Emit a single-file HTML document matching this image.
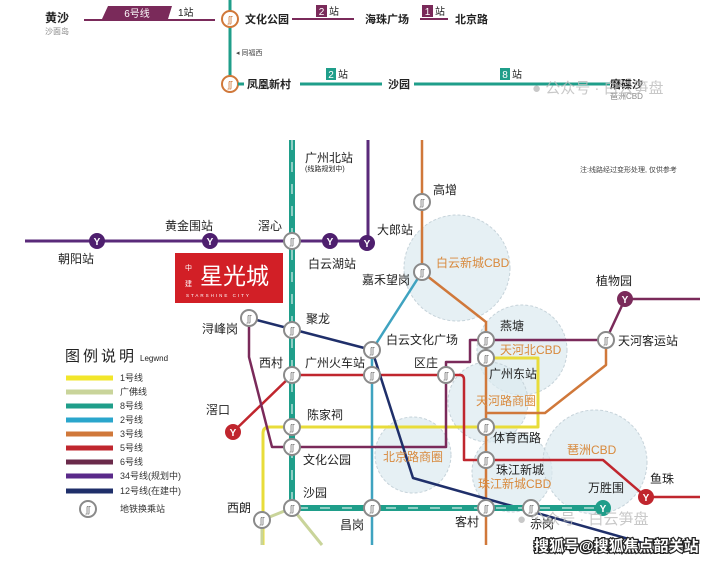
<!DOCTYPE html>
<html><head><meta charset="utf-8"><style>
html,body{margin:0;padding:0;background:#fff;}
svg{display:block;font-family:"Liberation Sans","Noto Sans CJK SC",sans-serif;}
</style></head><body>
<svg width="718" height="561" viewBox="0 0 718 561" xmlns="http://www.w3.org/2000/svg">
<defs>
<g id="x"><circle r="8" fill="#fff" stroke="#8a8a8a" stroke-width="2"/><text y="3.5" font-size="9" text-anchor="middle" fill="#777">ʃʃ</text></g>
<g id="xo"><circle r="8" fill="#fff" stroke="#d0783a" stroke-width="2"/><text y="3.5" font-size="9" text-anchor="middle" fill="#d0783a">ʃʃ</text></g>
</defs>
<!-- TOP SECTION -->
<line x1="230" y1="0" x2="230" y2="84" stroke="#1f9e8a" stroke-width="3"/>
<text x="45" y="22" font-size="12" font-weight="bold" fill="#222">黄沙</text>
<text x="45" y="34" font-size="8" fill="#888">沙面岛</text>
<line x1="84" y1="20" x2="215" y2="20" stroke="#7a2a5a" stroke-width="2"/>
<polygon points="108,6 172,6 168,19 102,19" fill="#7a2a5a"/>
<text x="137" y="17" font-size="10" fill="#fff" text-anchor="middle">6号线</text>
<text x="178" y="16" font-size="10" fill="#222">1站</text>
<use href="#xo" x="230" y="19"/>
<text x="245" y="23" font-size="11" font-weight="bold" fill="#222">文化公园</text>
<line x1="292" y1="19" x2="354" y2="19" stroke="#7a2a5a" stroke-width="2"/>
<rect x="316" y="5" width="11" height="12" fill="#7a2a5a"/><text x="321.5" y="15" font-size="10" fill="#fff" text-anchor="middle">2</text><text x="329" y="15" font-size="10" fill="#222">站</text>
<text x="365" y="23" font-size="11" font-weight="bold" fill="#222">海珠广场</text>
<line x1="420" y1="19" x2="448" y2="19" stroke="#7a2a5a" stroke-width="2"/>
<rect x="422" y="5" width="11" height="12" fill="#7a2a5a"/><text x="427.5" y="15" font-size="10" fill="#fff" text-anchor="middle">1</text><text x="435" y="15" font-size="10" fill="#222">站</text>
<text x="455" y="23" font-size="11" font-weight="bold" fill="#222">北京路</text>
<text x="236" y="55" font-size="7" fill="#444">◂ 同福西</text>
<use href="#xo" x="230" y="84"/>
<line x1="238" y1="84" x2="244" y2="84" stroke="#1f9e8a" stroke-width="3"/>
<text x="247" y="88" font-size="11" font-weight="bold" fill="#222">凤凰新村</text>
<line x1="300" y1="84" x2="382" y2="84" stroke="#1f9e8a" stroke-width="3"/>
<rect x="326" y="68" width="10" height="12" fill="#1f9e8a"/><text x="331" y="78" font-size="10" fill="#fff" text-anchor="middle">2</text><text x="338" y="78" font-size="10" fill="#222">站</text>
<text x="388" y="88" font-size="11" font-weight="bold" fill="#222">沙园</text>
<line x1="414" y1="84" x2="610" y2="84" stroke="#1f9e8a" stroke-width="3"/>
<rect x="500" y="68" width="10" height="12" fill="#1f9e8a"/><text x="505" y="78" font-size="10" fill="#fff" text-anchor="middle">8</text><text x="512" y="78" font-size="10" fill="#222">站</text>
<text x="610" y="88" font-size="11" font-weight="bold" fill="#222">磨碟沙</text>
<text x="610" y="99" font-size="8" fill="#888">琶洲CBD</text>
<text x="532" y="93" font-size="15" fill="#bbb" opacity="0.8">● 公众号 · 白云笋盘</text>

<!-- CBD circles -->
<g fill="#dbe9f0" fill-opacity="0.7" stroke="#c6d3da" stroke-dasharray="3,2">
<circle cx="457" cy="268" r="53"/>
<circle cx="522" cy="350" r="45"/>
<circle cx="488" cy="402" r="40"/>
<circle cx="413" cy="455" r="38"/>
<circle cx="512" cy="472" r="40"/>
<circle cx="595" cy="462" r="52"/>
</g>
<text x="580" y="172" font-size="7" fill="#444">注:线路经过变形处理, 仅供参考</text>

<!-- lines -->
<g fill="none" stroke-linejoin="round">
<path d="M263,545 V433 Q263,427 270,427 H486" stroke="#e8dc3a" stroke-width="3"/>
<path d="M486,358 H538 V427 H486" stroke="#e8dc3a" stroke-width="3"/>
<path d="M262,545 V520 L292,508 L322,545" stroke="#c9d49a" stroke-width="3"/>
<path d="M422,272 L372,350 V545" stroke="#3fa3c0" stroke-width="2.5"/>
<path d="M422,140 V272 L486,322 V545" stroke="#d0783a" stroke-width="2.5"/>
<path d="M606,340 V365 L545,413 H486" stroke="#d0783a" stroke-width="2.5"/>
<path d="M25,241 H368 V140" stroke="#5a2a7a" stroke-width="3"/>
<path d="M233,432 L292,375 H460 Q464,375 464,380 V460 H603 L646,497 H700" stroke="#c0262e" stroke-width="2.5"/>
<path d="M249,318 V357 L272,447 H446 V362 H470 V340 H606 L625,299 H700" stroke="#7a2a5a" stroke-width="2.5"/>
<path d="M249,318 L372,350 L413,478 L650,545" stroke="#1f2f6a" stroke-width="2.5"/>
<path d="M292,140 V508 H600" stroke="#1f9e8a" stroke-width="6"/>
<path d="M292,140 V508 H600" stroke="#fff" stroke-width="1" stroke-dasharray="10,12"/>
</g>

<!-- red box -->
<rect x="175" y="253" width="108" height="50" fill="#d21f26"/>
<text x="185" y="270" font-size="7" fill="#fff">中</text><text x="185" y="286" font-size="7" fill="#fff">建</text>
<text x="200" y="284" font-size="23" fill="#fff">星光城</text>
<text x="186" y="297" font-size="4.5" fill="#fff" letter-spacing="2">STARSHINE CITY</text>

<!-- Y stations -->
<g font-size="10" font-weight="bold" fill="#fff" text-anchor="middle">
<circle cx="97" cy="241" r="8" fill="#4e1f6e"/><text x="97" y="245">Y</text>
<circle cx="210" cy="241" r="8" fill="#4e1f6e"/><text x="210" y="245">Y</text>
<circle cx="330" cy="241" r="8" fill="#4e1f6e"/><text x="330" y="245">Y</text>
<circle cx="367" cy="243" r="8" fill="#4e1f6e"/><text x="367" y="247">Y</text>
<circle cx="625" cy="299" r="8" fill="#7a2a5a"/><text x="625" y="303">Y</text>
<circle cx="233" cy="432" r="8" fill="#c0262e"/><text x="233" y="436">Y</text>
<circle cx="646" cy="497" r="8" fill="#c0262e"/><text x="646" y="501">Y</text>
<circle cx="603" cy="508" r="8" fill="#1f9e8a"/><text x="603" y="512">Y</text>
</g>
<use href="#x" x="292" y="241"/><use href="#x" x="422" y="202"/><use href="#x" x="422" y="272"/>
<use href="#x" x="249" y="318"/><use href="#x" x="292" y="330"/><use href="#x" x="372" y="350"/>
<use href="#x" x="292" y="375"/><use href="#x" x="372" y="375"/><use href="#x" x="446" y="375"/>
<use href="#x" x="486" y="340"/><use href="#x" x="486" y="358"/><use href="#x" x="606" y="340"/>
<use href="#x" x="292" y="427"/><use href="#x" x="292" y="447"/><use href="#x" x="486" y="427"/>
<use href="#x" x="486" y="460"/><use href="#x" x="292" y="508"/><use href="#x" x="262" y="520"/>
<use href="#x" x="372" y="508"/><use href="#x" x="486" y="508"/><use href="#x" x="531" y="508"/>

<!-- labels -->
<g font-size="12" fill="#222">
<text x="305" y="162">广州北站</text><text x="305" y="171" font-size="7">(线路规划中)</text>
<text x="58" y="263">朝阳站</text><text x="165" y="230">黄金围站</text><text x="258" y="230">滘心</text>
<text x="308" y="268">白云湖站</text><text x="377" y="234">大郎站</text><text x="433" y="194">高增</text>
<text x="362" y="284">嘉禾望岗</text><text x="306" y="323">聚龙</text><text x="202" y="333">浔峰岗</text>
<text x="386" y="344">白云文化广场</text><text x="500" y="330">燕塘</text><text x="596" y="285">植物园</text>
<text x="618" y="345">天河客运站</text><text x="259" y="367">西村</text><text x="305" y="367">广州火车站</text>
<text x="414" y="367">区庄</text><text x="489" y="378">广州东站</text><text x="206" y="414">滘口</text>
<text x="307" y="419">陈家祠</text><text x="493" y="442">体育西路</text><text x="303" y="464">文化公园</text>
<text x="496" y="474">珠江新城</text><text x="303" y="497">沙园</text><text x="588" y="492">万胜围</text>
<text x="650" y="483">鱼珠</text><text x="227" y="512">西朗</text><text x="340" y="529">昌岗</text>
<text x="455" y="526">客村</text><text x="530" y="528">赤岗</text>
</g>
<g font-size="12" fill="#d8893c">
<text x="436" y="267">白云新城CBD</text><text x="500" y="354">天河北CBD</text><text x="476" y="405">天河路商圈</text>
<text x="383" y="461">北京路商圈</text><text x="478" y="488">珠江新城CBD</text><text x="567" y="454">琶洲CBD</text>
</g>

<!-- legend -->
<text x="65" y="361" font-size="15" fill="#222" letter-spacing="3">图例说明</text><text x="140" y="361" font-size="8" fill="#222">Legwnd</text>
<g stroke-width="5">
<line x1="66" y1="378" x2="113" y2="378" stroke="#f2e62a"/>
<line x1="66" y1="392" x2="113" y2="392" stroke="#c9d49a"/>
<line x1="66" y1="406" x2="113" y2="406" stroke="#1f9e8a"/>
<line x1="66" y1="420" x2="113" y2="420" stroke="#2aa6cc"/>
<line x1="66" y1="434" x2="113" y2="434" stroke="#d0783a"/>
<line x1="66" y1="448" x2="113" y2="448" stroke="#c0262e"/>
<line x1="66" y1="462" x2="113" y2="462" stroke="#6a2a4a"/>
<line x1="66" y1="476" x2="113" y2="476" stroke="#5a2a8a"/>
<line x1="66" y1="491" x2="113" y2="491" stroke="#1f2f6a"/>
</g>
<g font-size="9" fill="#333">
<text x="120" y="381">1号线</text><text x="120" y="395">广佛线</text><text x="120" y="409">8号线</text>
<text x="120" y="423">2号线</text><text x="120" y="437">3号线</text><text x="120" y="451">5号线</text>
<text x="120" y="465">6号线</text><text x="120" y="479">34号线(规划中)</text><text x="120" y="494">12号线(在建中)</text>
<text x="120" y="512">地铁换乘站</text>
</g>
<use href="#x" x="88" y="509"/>

<text x="517" y="524" font-size="15" fill="#bbb" opacity="0.8">● 公众号 · 白云笋盘</text>
<text x="534" y="551" font-size="15" font-weight="bold" fill="#fff" stroke="#222" stroke-width="2.5" paint-order="stroke">搜狐号@搜狐焦点韶关站</text>
</svg>
</body></html>
